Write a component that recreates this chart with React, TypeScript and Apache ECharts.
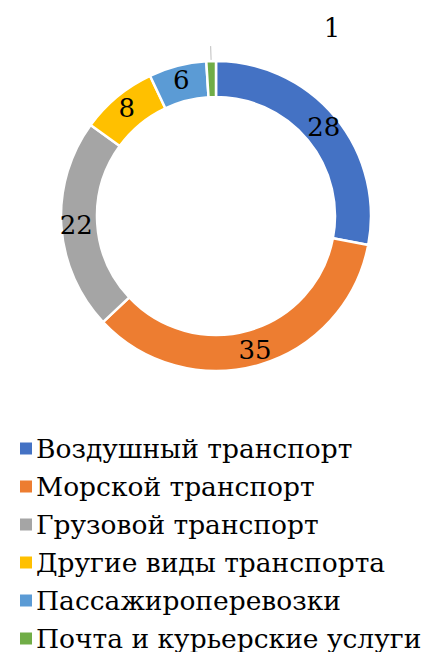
import React, { useEffect, useRef } from "react";
import * as echarts from "echarts";

const categories = [
  "Воздушный транспорт",
  "Морской транспорт",
  "Грузовой транспорт",
  "Другие виды транспорта",
  "Пассажироперевозки",
  "Почта и курьерские услуги",
];
const values = [28, 35, 22, 8, 6, 1];
const colors = ["#4472C4", "#ED7D31", "#A5A5A5", "#FFC000", "#5B9BD5", "#70AD47"];

const FONT = "DejaVu Serif";

export default function App() {
  const ref = useRef<HTMLDivElement>(null);
  useEffect(() => {
    if (!ref.current) return;
    const chart = echarts.init(ref.current, undefined, { renderer: "svg" });
    const last = values.length - 1;
    const mainData = categories.map((name, i) => ({
      name,
      value: values[i],
      itemStyle: { color: colors[i] },
      label:
        i === last
          ? { position: "outside" as const }
          : { position: "inside" as const },
      labelLine: { show: false },
    }));
    const lineData = categories.map((name, i) => ({
      name,
      value: values[i],
      label:
        i === last
          ? { show: true, position: "outside" as const, formatter: " " }
          : { show: false },
      labelLine:
        i === last
          ? { show: true, length: 15, length2: 0, lineStyle: { color: "#bfbfbf", width: 1 } }
          : { show: false },
    }));
    chart.setOption({
      animation: false,
      color: colors,
      legend: {
        orient: "vertical",
        left: 13,
        top: 430,
        height: 400,
        icon: "rect",
        itemWidth: 14,
        itemHeight: 14,
        itemGap: 11,
        data: categories,
        textStyle: {
          fontFamily: FONT,
          fontSize: 26.5,
          color: "#000",
          padding: [0, 0, 0, -2],
        },
      },
      series: [
        {
          type: "pie",
          center: [216, 216],
          radius: [119, 155],
          startAngle: 90,
          clockwise: true,
          avoidLabelOverlap: false,
          itemStyle: { borderColor: "#fff", borderWidth: 2.5 },
          label: {
            show: true,
            fontFamily: FONT,
            fontSize: 26,
            color: "#000",
            formatter: "{c}",
          },
          labelLayout: (p: any) =>
            p.dataIndex === last
              ? { x: 332, y: 28, align: "center", verticalAlign: "middle" }
              : {},
          emphasis: { disabled: true },
          data: mainData,
        },
        {
          type: "pie",
          center: [216, 216],
          radius: [119, 155],
          startAngle: 90,
          clockwise: true,
          silent: true,
          avoidLabelOverlap: false,
          itemStyle: { color: "transparent", borderWidth: 0 },
          label: { fontSize: 12 },
          emphasis: { disabled: true },
          data: lineData,
        },
      ],
    });
    return () => chart.dispose();
  }, []);
  return (
    <div
      ref={ref}
      style={{ position: "fixed", left: 0, top: 0, width: 421, height: 652, background: "#fff" }}
    />
  );
}
